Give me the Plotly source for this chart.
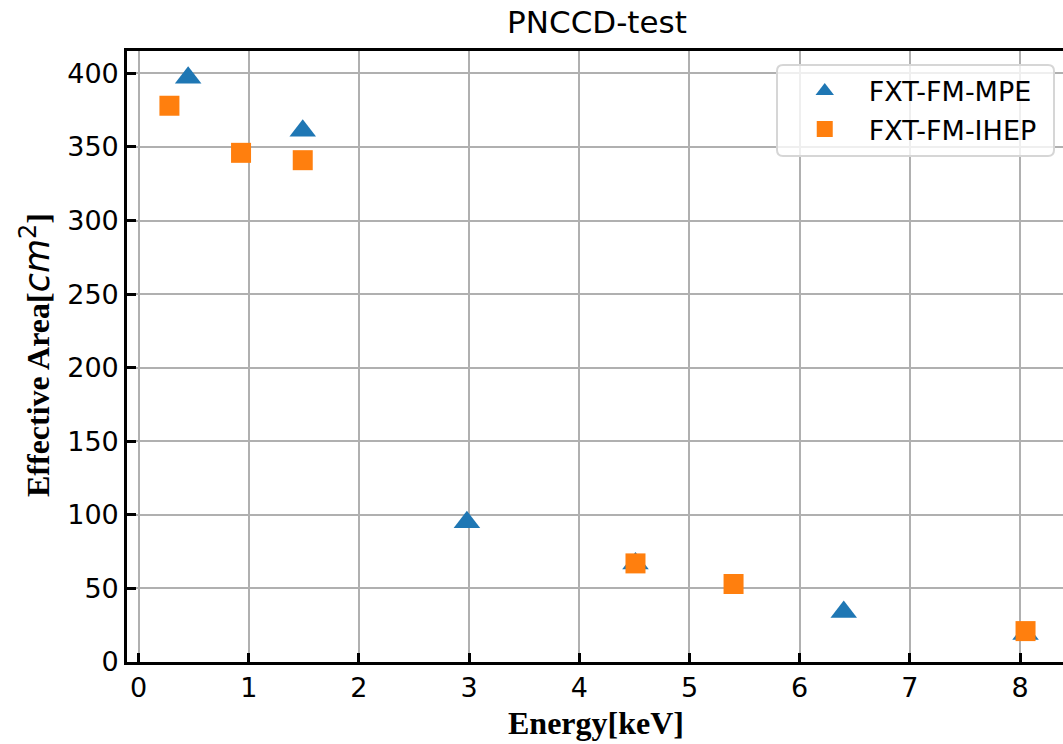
import plotly.graph_objects as go

# Effective area measurements of the FXT flight module (PNCCD test)
mpe_energy = [0.45, 1.49, 2.98, 4.51, 6.40, 8.05]
mpe_area = [397, 361, 95, 67, 34, 19]

ihep_energy = [0.28, 0.93, 1.49, 4.51, 5.40, 8.05]
ihep_area = [378, 346, 341, 67, 53, 21]

x_ticks = [0, 1, 2, 3, 4, 5, 6, 7, 8]
y_ticks = [0, 50, 100, 150, 200, 250, 300, 350, 400]

BLUE = "#1f77b4"
ORANGE = "#ff7f0e"
SANS = "DejaVu Sans"
SERIF = "Liberation Serif"

W, H = 1063, 744
ML, MR, MT, MB = 127, 0, 51, 82

fig = go.Figure()
fig.add_trace(go.Scatter(
    x=mpe_energy, y=mpe_area, mode="markers", name="FXT-FM-MPE",
    marker=dict(symbol="triangle-up", size=23, color=BLUE, line=dict(width=0)),
))
fig.add_trace(go.Scatter(
    x=ihep_energy, y=ihep_area, mode="markers", name="FXT-FM-IHEP",
    marker=dict(symbol="square", size=20, color=ORANGE, line=dict(width=0)),
))

axis_common = dict(
    showgrid=True, gridcolor="#b0b0b0", gridwidth=2,
    showline=True, linecolor="black", linewidth=2.7,
    ticks="inside", ticklen=9, tickwidth=2.5, tickcolor="black",
    tickfont=dict(family=SANS, size=27, color="black"),
    zeroline=False,
)

fig.update_xaxes(
    range=[-0.105, 8.39], tickvals=x_ticks, mirror=True, **axis_common,
)
fig.update_yaxes(
    range=[0, 415.2], tickvals=y_ticks, **axis_common,
)

# rounded legend frame
lx0, lx1, ly0, ly1, rad = 777, 1054, 65, 156, 6
def px(x):
    return (x - ML) / (W - ML - MR)
def py(y):
    return 1 - (y - MT) / (H - MT - MB)
path = (
    f"M {px(lx0 + rad)},{py(ly0)} L {px(lx1 - rad)},{py(ly0)} "
    f"Q {px(lx1)},{py(ly0)} {px(lx1)},{py(ly0 + rad)} "
    f"L {px(lx1)},{py(ly1 - rad)} Q {px(lx1)},{py(ly1)} {px(lx1 - rad)},{py(ly1)} "
    f"L {px(lx0 + rad)},{py(ly1)} Q {px(lx0)},{py(ly1)} {px(lx0)},{py(ly1 - rad)} "
    f"L {px(lx0)},{py(ly0 + rad)} Q {px(lx0)},{py(ly0)} {px(lx0 + rad)},{py(ly0)} Z"
)
fig.add_shape(
    type="path", path=path, xref="paper", yref="paper", layer="above",
    fillcolor="rgba(255,255,255,0.8)", line=dict(color="#d6d6d6", width=2),
)

fig.update_layout(
    width=W, height=H,
    margin=dict(l=ML, r=MR, t=MT, b=MB),
    plot_bgcolor="white", paper_bgcolor="white",
    title=dict(
        text="PNCCD-test", x=597 / W, xanchor="center",
        y=1 - 22 / H, yanchor="middle", yref="container",
        font=dict(family=SANS, size=31, color="black"),
    ),
    legend=dict(
        x=px(lx0) + 0.004, y=py(ly0) - 0.003, xanchor="left", yanchor="top",
        bgcolor="rgba(0,0,0,0)", borderwidth=0,
        font=dict(family=SANS, size=27, color="black"),
        itemwidth=78, tracegroupgap=4,
    ),
    showlegend=True,
    annotations=[
        dict(
            text="<b>Energy[keV]</b>", xref="paper", yref="paper",
            x=px(596), y=py(723), xanchor="center", yanchor="middle",
            showarrow=False, font=dict(family=SERIF, size=32, color="black"),
        ),
        dict(
            text=("<b>Effective Area[</b><span style=\"font-family:'DejaVu Sans';"
                  "font-style:italic;font-weight:normal;font-size:35px\">cm</span>"
                  "<sup><span style=\"font-family:'DejaVu Sans';font-weight:normal;"
                  "font-size:24px\">2</span></sup><b>]</b>"),
            xref="paper", yref="paper", x=px(35), y=py(355),
            xanchor="center", yanchor="middle", textangle=-90,
            showarrow=False, font=dict(family=SERIF, size=32, color="black"),
        ),
    ],
)

fig.write_html("out.html")
